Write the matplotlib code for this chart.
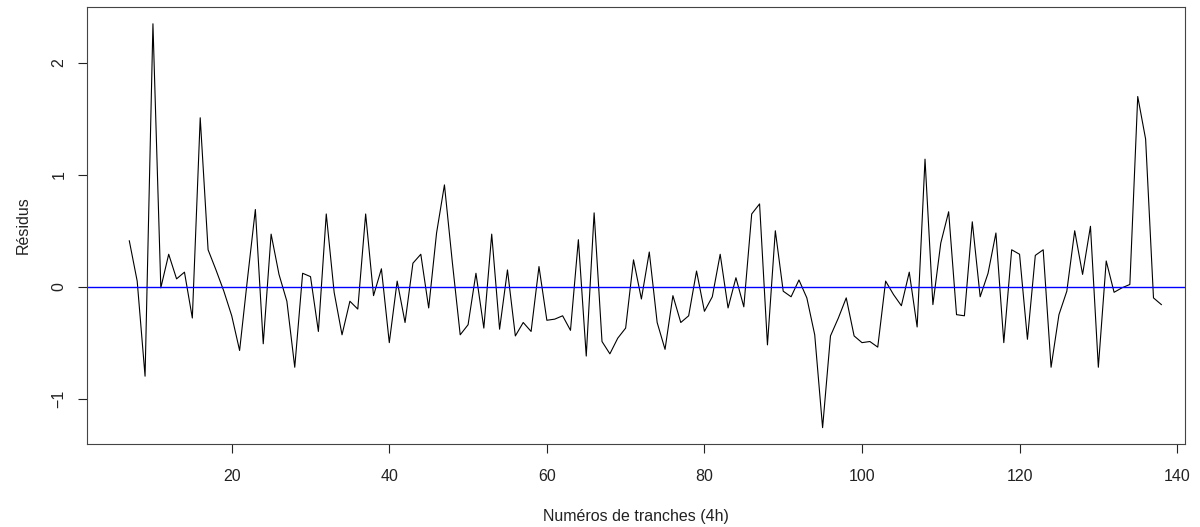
import matplotlib.pyplot as plt

plt.rcParams['font.family'] = ['Liberation Sans', 'DejaVu Sans']

# numéros de tranches (4h) et résidus
tranches = list(range(7, 139))
residus = [
    0.41, 0.05, -0.80, 2.35, -0.01, 0.29, 0.07, 0.13, -0.28, 1.51,
    0.33, 0.15, -0.04, -0.26, -0.57, 0.07, 0.69, -0.51, 0.47, 0.11,
    -0.13, -0.72, 0.12, 0.09, -0.40, 0.65, -0.05, -0.43, -0.13, -0.20,
    0.65, -0.08, 0.16, -0.50, 0.05, -0.32, 0.21, 0.29, -0.19, 0.48,
    0.91, 0.22, -0.43, -0.34, 0.12, -0.37, 0.47, -0.38, 0.15, -0.44,
    -0.32, -0.40, 0.18, -0.30, -0.29, -0.26, -0.39, 0.42, -0.62, 0.66,
    -0.49, -0.60, -0.46, -0.37, 0.24, -0.11, 0.31, -0.32, -0.56, -0.08,
    -0.32, -0.26, 0.14, -0.22, -0.09, 0.29, -0.19, 0.08, -0.18, 0.65,
    0.74, -0.52, 0.50, -0.04, -0.09, 0.06, -0.10, -0.43, -1.26, -0.44,
    -0.28, -0.10, -0.44, -0.50, -0.49, -0.54, 0.05, -0.07, -0.17, 0.13,
    -0.36, 1.14, -0.16, 0.39, 0.67, -0.25, -0.26, 0.58, -0.09, 0.12,
    0.48, -0.50, 0.33, 0.29, -0.47, 0.28, 0.33, -0.72, -0.25, -0.04,
    0.50, 0.11, 0.54, -0.72, 0.23, -0.05, -0.01, 0.02, 1.70, 1.32,
    -0.10, -0.16,
]
xticks = [20, 40, 60, 80, 100, 120, 140]
yticks = [-1, 0, 1, 2]

fig = plt.figure(figsize=(12, 5.27), dpi=100)
ax = fig.add_axes([0.0725, 0.1575, 0.915, 0.8292])

ax.plot(tranches, residus, color='black', linewidth=0.8)
ax.axhline(0, color='#0000ff', linewidth=1.0)

ax.set_xlim(1.63, 141.0)
ax.set_ylim(-1.406, 2.50)
ax.set_xticks(xticks)
ax.set_yticks(yticks)
ax.tick_params(direction='out', length=6.7, width=0.8, labelsize=11.5,
               colors='#222222', pad=8)
ax.tick_params(axis='x', pad=11.5)
for lab in ax.get_yticklabels():
    lab.set_rotation(90)
    lab.set_va('center')

for s in ax.spines.values():
    s.set_color('#444444')
    s.set_linewidth(0.8)

ax.set_xlabel('Numéros de tranches (4h)', fontsize=11.5, color='#222222', labelpad=18)
ax.set_ylabel('Résidus', fontsize=11.5, color='#222222', labelpad=15)

fig.savefig('out.png', dpi=100)
